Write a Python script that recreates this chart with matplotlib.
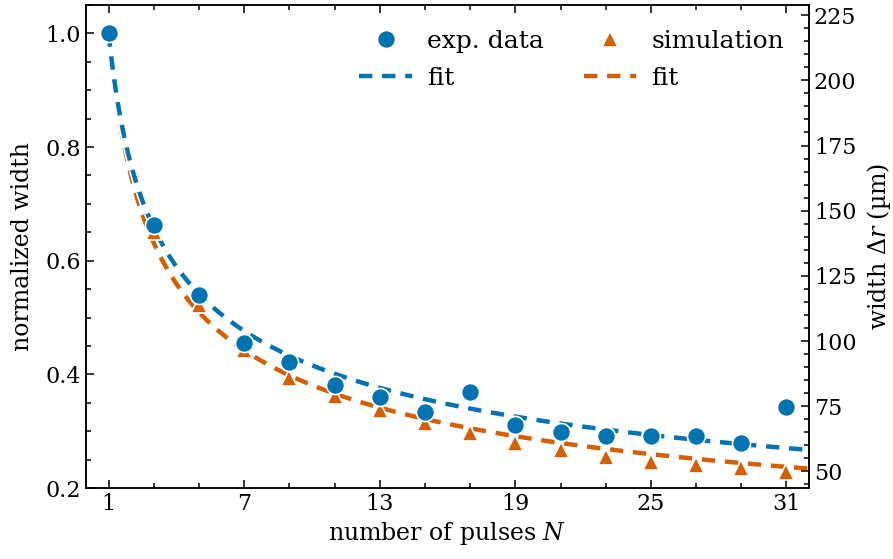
import numpy as np
import matplotlib
matplotlib.use("Agg")
import matplotlib.pyplot as plt
import matplotlib.patheffects as pe
from matplotlib.ticker import MultipleLocator, FixedLocator

plt.rcParams["font.family"] = ["DejaVu Serif"]
plt.rcParams["mathtext.fontset"] = "dejavuserif"

# pulses
n_pulses = [1, 3, 5, 7, 9, 11, 13, 15, 17, 19, 21, 23, 25, 27, 29, 31]
# normalized width, experiment
exp_width = [1.0, 0.662, 0.540, 0.455, 0.422, 0.381, 0.360, 0.334, 0.369,
             0.311, 0.299, 0.291, 0.292, 0.291, 0.280, 0.342]
# normalized width, simulation
sim_width = [1.0, 0.650, 0.522, 0.443, 0.393, 0.362, 0.337, 0.314, 0.296,
             0.280, 0.267, 0.255, 0.246, 0.240, 0.235, 0.229]

# power law fits  w = a * N^-b
exp_fit_a, exp_fit_b = 1.0, 0.381
sim_fit_a, sim_fit_b = 1.0, 0.419

scale_um = 218.0  # normalized -> micrometre

blue = "#0173B2"
orange = "#D55E00"

fig = plt.figure(figsize=(8.93, 5.59), dpi=100)
ax = fig.add_axes([0.0963, 0.127, 0.8097, 0.864])

nn = np.linspace(1, 32, 300)
stroke = [pe.Stroke(linewidth=5.5, foreground="white"), pe.Normal()]
l2, = ax.plot(nn, sim_fit_a * nn ** (-sim_fit_b), color=orange, lw=3.2,
              ls=(0, (3, 2.2)), path_effects=stroke, zorder=2)
l1, = ax.plot(nn, exp_fit_a * nn ** (-exp_fit_b), color=blue, lw=3.2,
              ls=(0, (3, 2.2)), path_effects=stroke, zorder=3)
s2, = ax.plot(n_pulses, sim_width, ls="none", marker="^", ms=12,
              color=orange, mec="white", mew=1.2, zorder=4)
s1, = ax.plot(n_pulses, exp_width, ls="none", marker="o", ms=13,
              color=blue, mec="white", mew=1.2, zorder=5)

ax.set_xlim(0, 32)
ax.set_ylim(0.2, 1.05)
ax.xaxis.set_major_locator(FixedLocator([1, 7, 13, 19, 25, 31]))
ax.xaxis.set_minor_locator(FixedLocator(list(range(1, 33, 2))))
ax.yaxis.set_major_locator(MultipleLocator(0.2))
ax.yaxis.set_minor_locator(MultipleLocator(0.05))
ax.tick_params(which="both", direction="in", top=True, right=False,
               labelsize=16, width=1.1)
ax.tick_params(which="major", length=6)
ax.tick_params(which="minor", length=3.5)
ax.set_xlabel("number of pulses $N$", fontsize=17, labelpad=4)
ax.set_ylabel("normalized width", fontsize=17, labelpad=8)
for sp in ax.spines.values():
    sp.set_linewidth(1.1)

ax2 = ax.twinx()
ax2.set_ylim(0.2 * scale_um, 1.05 * scale_um)
ax2.yaxis.set_major_locator(MultipleLocator(25))
ax2.yaxis.set_minor_locator(MultipleLocator(5))
ax2.tick_params(which="both", direction="in", labelsize=16, width=1.1)
ax2.tick_params(which="major", length=6)
ax2.tick_params(which="minor", length=3.5)
ax2.set_ylabel(r"width $\Delta r$ (µm)", fontsize=17, labelpad=6)
for sp in ax2.spines.values():
    sp.set_linewidth(1.1)

l1.set_path_effects([])
l2.set_path_effects([])
leg = ax.legend([s1, l1, s2, l2], ["exp. data", "fit", "simulation", "fit"],
                ncol=2, frameon=False, fontsize=18, loc="upper right",
                handlelength=2.1, columnspacing=1.6, borderaxespad=0.6,
                labelspacing=0.55, handletextpad=0.6)
l1.set_path_effects(stroke)
l2.set_path_effects(stroke)

fig.savefig("out.png", dpi=100)
